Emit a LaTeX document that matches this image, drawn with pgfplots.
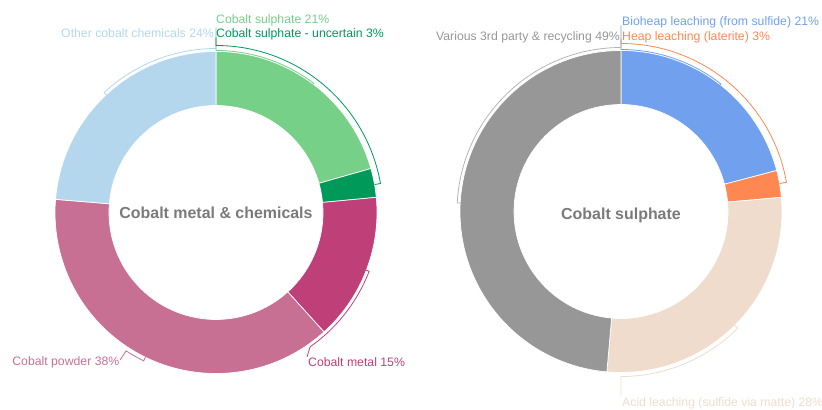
\documentclass[border=0pt]{standalone}
\usepackage{pgfplots}
\pgfplotsset{compat=1.18}
\usepackage{fontspec}
\setmainfont{Liberation Sans}
\definecolor{csul}{HTML}{76D088}
\definecolor{cunc}{HTML}{00995A}
\definecolor{cmet}{HTML}{BF4078}
\definecolor{cpow}{HTML}{C87093}
\definecolor{coth}{HTML}{B4D7EE}
\definecolor{cbio}{HTML}{71A0EF}
\definecolor{chea}{HTML}{FF8752}
\definecolor{caci}{HTML}{F0DCCC}
\definecolor{cvar}{HTML}{979797}
\definecolor{ctitle}{HTML}{7A7A7A}
% shares in percent, clockwise from 12 o'clock
\def\leftdata{20.6/csul, 2.9/cunc, 14.8/cmet, 38.0/cpow, 23.7/coth}
\def\rightdata{20.9/cbio, 2.7/chea, 27.8/caci, 48.6/cvar}
\newcommand{\donut}[3]{%
  \xdef\acur{90}%
  \foreach \v/\c in #3 {%
    \pgfmathsetmacro{\aend}{\acur-3.6*\v}%
    \fill[\c, draw=white, line width=0.7bp] (axis cs:#1,#2) ++(\acur:161bp)
      arc[start angle=\acur, end angle=\aend, radius=161bp]
      -- ++(\aend+180:54bp)
      arc[start angle=\aend, end angle=\acur, radius=107bp] -- cycle;
    \xdef\acur{\aend}%
  }%
}
\begin{document}
\begin{tikzpicture}
\begin{axis}[at={(0,0)}, anchor=origin, scale only axis, width=822bp, height=410bp,
  xmin=0, xmax=822, ymin=0, ymax=410, hide axis, clip=false]
\pgfplotsextra{\donut{216}{197.5}{\leftdata}\donut{621}{198.5}{\rightdata}}
% label brackets, left
\draw[coth, line width=0.8bp] (axis cs:216,197.5) ++(133:160bp) -- ++(133:4bp) arc[start angle=133,end angle=90,radius=164bp] -- ++(0,10bp);
\draw[csul, line width=0.8bp] (axis cs:216,197.5) ++(53:159bp) -- ++(53:3bp) arc[start angle=53,end angle=90,radius=162bp] -- ++(0,23bp);
\draw[cunc, line width=0.8bp] (axis cs:216,197.5) ++(10:161bp) -- ++(10:6bp) arc[start angle=10,end angle=90,radius=167bp] -- ++(0,8bp);
\draw[cmet, line width=0.8bp] (axis cs:216,197.5) ++(-21:160bp) -- ++(-21:4bp) arc[start angle=-21,end angle=-55,radius=164bp] -- ++(-3bp,-10bp);
\draw[cpow, line width=0.8bp] (axis cs:216,197.5) ++(-116:161bp) -- ++(-116:4bp) arc[start angle=-116,end angle=-123,radius=165bp] -- ++(-6bp,-9bp);
% label brackets, right
\draw[cbio, line width=0.8bp] (axis cs:621,198.5) ++(52:159bp) -- ++(52:3bp) arc[start angle=52,end angle=90,radius=162bp] -- ++(0,24bp);
\draw[chea, line width=0.8bp] (axis cs:621,198.5) ++(10:161bp) -- ++(10:7bp) arc[start angle=10,end angle=90,radius=168bp] -- ++(0,4bp);
\draw[cvar!120!black, line width=0.8bp] (axis cs:621,198.5) ++(177:160bp) -- ++(177:4bp) arc[start angle=177,end angle=90,radius=164bp] -- ++(0,9bp);
\draw[caci, line width=0.8bp] (axis cs:621,198.5) ++(-45:160bp) -- ++(-45:5bp) arc[start angle=-45,end angle=-90,radius=165bp] -- ++(0,-19bp);
% labels
\tikzset{lab/.style={inner sep=0pt, font=\fontsize{12.3}{14}\selectfont}}
\node[lab, anchor=base west, text=csul] at (axis cs:216,387) {Cobalt sulphate 21\%};
\node[lab, anchor=base west, text=cunc] at (axis cs:216,373) {Cobalt sulphate - uncertain 3\%};
\node[lab, anchor=base east, text=coth] at (axis cs:214,373) {Other cobalt chemicals 24\%};
\node[lab, anchor=base east, text=cpow] at (axis cs:119.5,45) {Cobalt powder 38\%};
\node[lab, anchor=base west, text=cmet] at (axis cs:308,43.3) {Cobalt metal 15\%};
\node[lab, anchor=base west, text=cbio] at (axis cs:622,385) {Bioheap leaching (from sulfide) 21\%};
\node[lab, anchor=base west, text=chea] at (axis cs:622,370) {Heap leaching (laterite) 3\%};
\node[lab, anchor=base east, text=cvar] at (axis cs:620,370) {Various 3rd party \& recycling 49\%};
\node[lab, anchor=base west, text=caci] at (axis cs:622,4) {Acid leaching (sulfide via matte) 28\%};
\node[inner sep=0pt, anchor=base, text=ctitle, font=\fontsize{16}{18}\selectfont\bfseries] at (axis cs:216,191.5) {Cobalt metal \& chemicals};
\node[inner sep=0pt, anchor=base, text=ctitle, font=\fontsize{16}{18}\selectfont\bfseries] at (axis cs:621,191) {Cobalt sulphate};
\end{axis}
\pgfresetboundingbox
\path[use as bounding box] (0,0) rectangle (822bp,410bp);
\end{tikzpicture}
\end{document}
